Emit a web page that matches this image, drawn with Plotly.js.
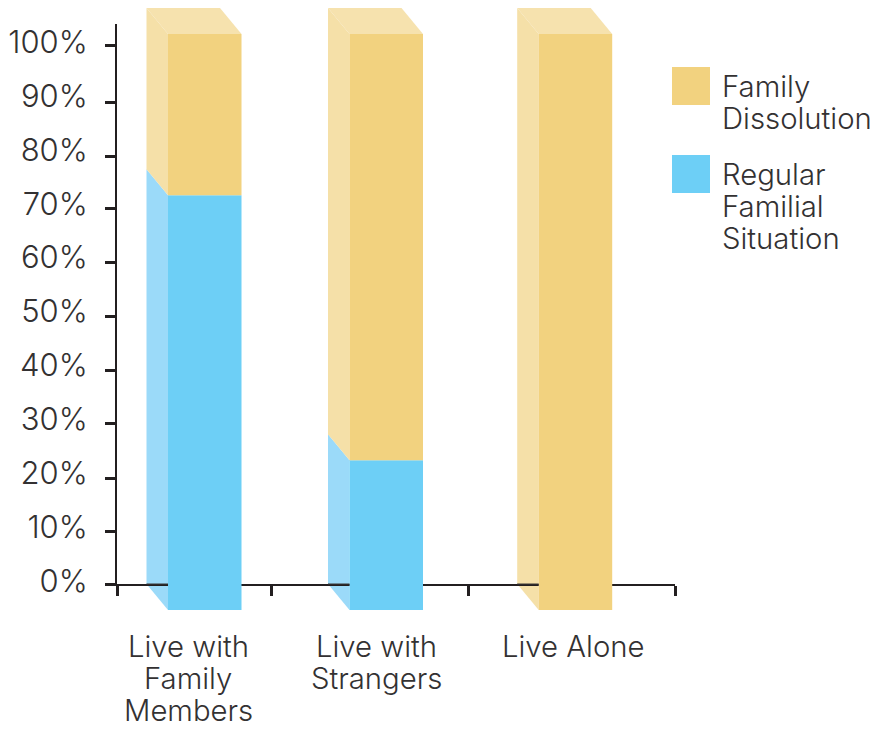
<!DOCTYPE html>
<html><head><meta charset="utf-8">
<script src="https://cdn.plot.ly/plotly-3.0.1.min.js"></script>
<style>html,body{margin:0;padding:0;background:#fff}</style></head>
<body><div id="chart" style="width:878px;height:731px"></div>
<script>
const categoryLines = [["Live with","Family","Members"],["Live with","Strangers"],["Live Alone"]];
const regular = [72, 26, 0];
const dissolution = [28, 74, 100];
const yTicks = [0,10,20,30,40,50,60,70,80,90,100];
const yTickMarks = [0,9.74,19.6,29.7,39.7,49.7,59.7,69.6,79.3,89.4,100];
const yTickText = ["0%","10%","20%","30%","40%","50%","60%","70%","80%","90%","100%"];
const legendItems = [["Family","Dissolution"],["Regular","Familial","Situation"]];

// layout constants (pixels of the 878x731 page)
const W=878,H=731;
const FONT={family:'Inter, Roboto, "Liberation Sans", sans-serif',size:29.3,color:'#333132',weight:300};
const TICKFONT=Object.assign({},FONT,{size:31});
const barLeft=[168,349.5,538.7], barW=73.5, depthX=21.5, depthYpx=26, xBounds=[117,271,468,675];
const labelCenters=[188,376,573];
const px=5.76, depthY=depthYpx/px;
const gold='#f2d27f', blue='#6dcff6', goldL='#f5e0a8', blueL='#9bdaf9', goldT='#f6e2ae', axisC='#231f20';

const traces=[];
function poly(xs,ys,color,name){traces.push({type:'scatter',mode:'lines',x:[...xs,xs[0]],y:[...ys,ys[0]],fill:'toself',fillcolor:color,line:{width:0},xaxis:'x',yaxis:'y',hoverinfo:'skip',showlegend:false,name});}
regular.forEach((r,i)=>{
  const xl=barLeft[i], xb=xl-depthX, xr=xl+barW, t=r+dissolution[i];
  if(r>0) poly([xb,xl,xl,xb],[depthY,0,r,r+depthY],blueL,'side');
  poly([xb,xl,xl,xb],[r>0?r+depthY:depthY,r,t,t+depthY],goldL,'side');
  poly([xb,xb+barW,xr,xl],[t+depthY,t+depthY,t,t],goldT,'top');
});
// visible axes subplot
traces.push({type:'scatter',mode:'none',x:[117],y:[0],xaxis:'x',yaxis:'y2',hoverinfo:'skip',showlegend:false});
// axis line seen through the translucent side faces
barLeft.forEach(xl=>traces.push({type:'scatter',mode:'lines',x:[xl-depthX,xl],y:[depthY,depthY],line:{width:2,color:'rgba(60,55,55,0.5)'},xaxis:'x',yaxis:'y3',hoverinfo:'skip',showlegend:false}));
// front faces
const centers=barLeft.map(v=>v+barW/2);
traces.push({type:'bar',name:'Regular Familial Situation',x:centers,y:regular,width:barW,marker:{color:blue,line:{width:0}},xaxis:'x',yaxis:'y3',showlegend:false,cliponaxis:false});
traces.push({type:'bar',name:'Family Dissolution',x:centers,y:dissolution,base:regular,width:barW,marker:{color:gold,line:{width:0}},xaxis:'x',yaxis:'y3',showlegend:false,cliponaxis:false});
// percent labels
traces.push({type:'scatter',mode:'none',x:[117],y:[0],xaxis:'x',yaxis:'y4',hoverinfo:'skip',showlegend:false});

const yFull={domain:[0,1],visible:false,fixedrange:true,anchor:'x'};
const rng=[-(H-610)/px,610/px];
const annotations=[];
categoryLines.forEach((ls,i)=>ls.forEach((t,k)=>annotations.push({xref:'paper',yref:'paper',x:(labelCenters[i]-117)/(675-117),y:1-(646+32*k)/H,text:t,showarrow:false,xanchor:'center',yanchor:'middle',font:FONT})));
const shapes=[];
const legY=[86,174], legTop=[67,155];
legendItems.forEach((ls,i)=>{
  const top=legTop[i];
  shapes.push({type:'rect',xref:'paper',yref:'paper',x0:(672-117)/558,x1:(710-117)/558,y0:1-top/H,y1:1-(top+38)/H,fillcolor:i==0?gold:blue,line:{width:0}});
  ls.forEach((t,k)=>annotations.push({xref:'paper',yref:'paper',x:(720-117)/558,y:1-(legY[i]+32*k)/H,text:t,showarrow:false,xanchor:'left',yanchor:'middle',font:FONT}));
});
const layout={width:W,height:H,margin:{l:117,r:W-675,t:0,b:0},paper_bgcolor:'#fff',plot_bgcolor:'rgba(0,0,0,0)',showlegend:false,barmode:'overlay',font:FONT,
 xaxis:{range:[117,675],tickmode:'array',tickvals:xBounds,ticktext:['','','',''],ticks:'outside',ticklen:10,tickwidth:3,tickcolor:axisC,showline:true,linecolor:axisC,linewidth:2,showgrid:false,zeroline:false,anchor:'y2',fixedrange:true},
 yaxis:Object.assign({range:rng},yFull),
 yaxis2:{domain:[1-584/H,1-24/H],range:[0,(584-24)/5.39],anchor:'x',tickmode:'array',tickvals:yTickMarks,ticktext:yTickMarks.map(()=>''),ticks:'outside',ticklen:10,tickwidth:3,tickcolor:axisC,showline:true,linecolor:axisC,linewidth:2,showgrid:false,zeroline:false,fixedrange:true},
 yaxis3:Object.assign({range:rng},yFull),
 yaxis4:{domain:[1-581/H,1-21/H],range:[0,(584-24)/5.39],anchor:'x',tickmode:'array',tickvals:yTicks,ticktext:yTickText,ticks:'outside',ticklen:22,tickwidth:1,tickcolor:'rgba(0,0,0,0)',showline:false,showgrid:false,zeroline:false,fixedrange:true,tickfont:TICKFONT},
 annotations,shapes};
Plotly.newPlot('chart',traces,layout,{staticPlot:true,displayModeBar:false});
</script></body></html>
